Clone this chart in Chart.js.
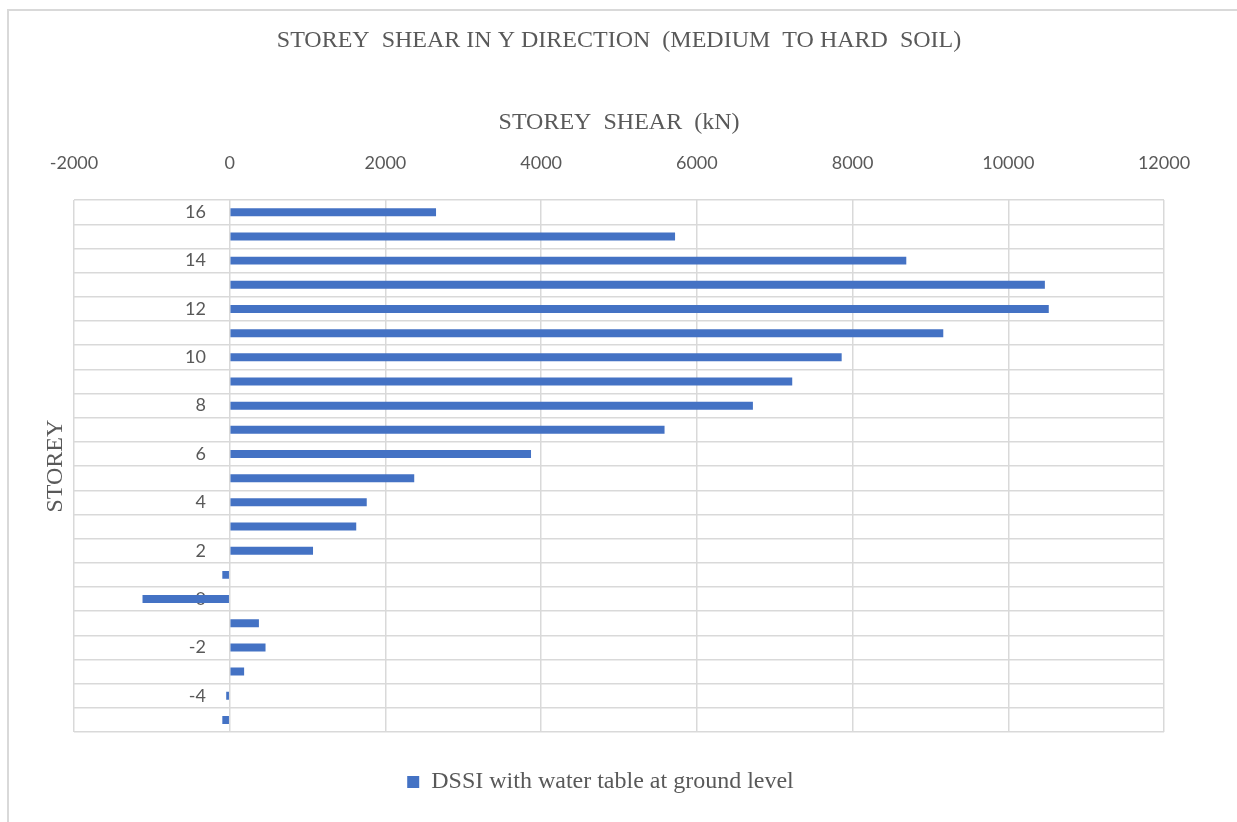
<!DOCTYPE html>
<html>
<head>
<meta charset="utf-8">
<title>Storey shear in Y direction</title>
<script src="https://cdn.jsdelivr.net/npm/chart.js@4"></script>
<style>
  html, body { margin: 0; padding: 0; background: #fff; }
  #wrap { position: relative; width: 1237px; height: 822px; }
  #frame {
    position: absolute; left: 7px; top: 9px; width: 1240px; height: 820px;
    border-left: 2px solid #d9d9d9; border-top: 2px solid #d9d9d9;
    pointer-events: none;
  }
</style>
</head>
<body>
<div id="wrap">
  <canvas id="shearChart"></canvas>
  <div id="frame"></div>
</div>
<script>
// storeys from top (16) down to the lowest basement (-5)
const storeys = ['16', '15', '14', '13', '12', '11', '10', '9', '8', '7', '6',
                 '5', '4', '3', '2', '1', '0', '-1', '-2', '-3', '-4', '-5'];

// storey shear (kN), same order as storeys
const shearDSSI = [2650, 5720, 8690, 10470, 10520, 9165, 7860, 7225, 6720, 5585, 3870,
                   2370, 1760, 1625, 1070, -95, -1120, 375, 460, 185, -45, -95];

const seriesName = 'DSSI with water table at ground level';

const grey = '#595959';
const gridGrey = '#d9d9d9';
const serif = '"Liberation Serif", "Times New Roman", serif';

const ctx = document.getElementById('shearChart').getContext('2d');

const shearChart = new Chart(ctx, {
    type: 'bar',
    data: {
        labels: storeys,
        datasets: [{
            label: seriesName,
            data: shearDSSI,
            backgroundColor: '#4472C4',
            borderWidth: 0,
            barPercentage: 0.33,
            categoryPercentage: 1
        }]
    },
    options: {
        indexAxis: 'y',
        responsive: true,
        maintainAspectRatio: false,
        animation: false,
        layout: {
            padding: { left: 37, right: 73, top: 16, bottom: 18 }
        },
        plugins: {
            title: {
                display: true,
                fullSize: false,
                text: 'STOREY  SHEAR IN Y DIRECTION  (MEDIUM  TO HARD  SOIL)',
                color: grey,
                font: { family: serif, size: 24, weight: 'normal' },
                padding: { top: 10, bottom: 25 }
            },
            legend: {
                position: 'bottom',
                labels: {
                    color: grey,
                    font: { family: serif, size: 24 },
                    boxWidth: 12,
                    boxHeight: 12,
                    padding: 38
                }
            },
            tooltip: { enabled: false }
        },
        scales: {
            x: {
                position: 'top',
                min: -2000,
                max: 12000,
                ticks: {
                    stepSize: 2000,
                    color: grey,
                    font: { family: 'Lato', size: 18 },
                    padding: 26,
                    callback: value => String(value)
                },
                grid: { color: gridGrey, lineWidth: 1.5, drawTicks: false },
                border: { display: false },
                title: {
                    display: true,
                    text: 'STOREY  SHEAR  (kN)',
                    color: grey,
                    font: { family: serif, size: 24 },
                    // pulls the axis title down towards the tick labels
                    padding: { top: 29, bottom: -11 }
                }
            },
            y: {
                position: 'left',
                // labels sit next to the zero line, inside the plot;
                // the big tick padding must not eat into the layout
                afterFit: axis => {
                    axis.width = 37;
                    axis.paddingTop = 0;
                    axis.paddingBottom = 0;
                },
                ticks: {
                    autoSkip: false,
                    mirror: true,
                    crossAlign: 'far',
                    padding: 111,
                    color: grey,
                    font: { family: 'Lato', size: 18 },
                    // only every second storey gets a label
                    callback: function (value, index) {
                        return index % 2 === 0 ? this.getLabelForValue(value) : '';
                    }
                },
                grid: { color: gridGrey, lineWidth: 1.5, drawTicks: false, offset: true },
                border: { display: false },
                title: {
                    display: true,
                    text: 'STOREY',
                    color: grey,
                    font: { family: serif, size: 24 },
                    padding: { top: 4, bottom: 4 }
                }
            }
        }
    }
});
</script>
</body>
</html>
